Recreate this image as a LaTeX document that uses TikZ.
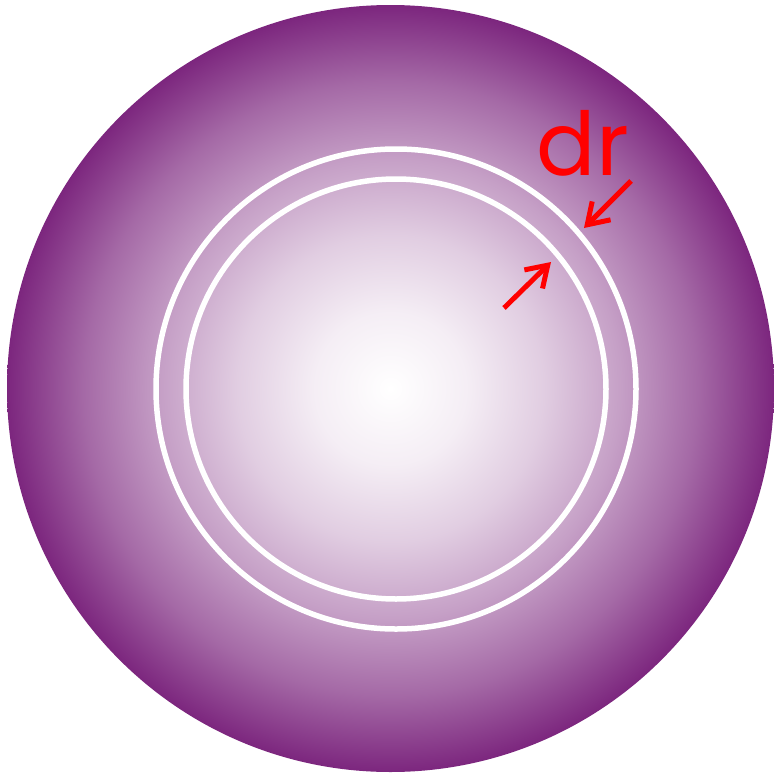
\documentclass[tikz,border=0pt]{standalone}
\usepackage{fontspec}
\newfontfamily\labelfont{Poppins}
\usetikzlibrary{arrows.meta}
\definecolor{ballpurple}{RGB}{124,38,126}
\definecolor{labelred}{RGB}{255,0,0}
\colorlet{shadeA}{ballpurple!8!white}
\colorlet{shadeB}{ballpurple!23!white}
\colorlet{shadeC}{ballpurple!44!white}
\colorlet{shadeD}{ballpurple!69!white}
\pgfdeclareradialshading{ballshade}{\pgfpoint{0bp}{0bp}}{%
  color(0bp)=(white); color(5bp)=(shadeA); color(10bp)=(shadeB);
  color(15bp)=(shadeC); color(20bp)=(shadeD); color(25bp)=(ballpurple);
  color(50bp)=(ballpurple)}
\tikzset{
  ring/.style={draw=white, line width=5.5pt},
  pointer/.style={draw=labelred, line width=5pt, -{Straight Barb[length=20pt,width=26pt,line width=5pt]}},
}
\begin{document}
\begin{tikzpicture}[x=1pt,y=-1pt]
\useasboundingbox (0,0) rectangle (774,774);
\shade[shading=ballshade] (390.5,388.5) circle[radius=383.5];
\node[circle, ring, minimum size=480pt, inner sep=0pt] (outerring) at (396,389) {};
\node[circle, ring, minimum size=420pt, inner sep=0pt] (innerring) at (396,389) {};
\coordinate (tailA) at (631,181);
\coordinate (tipA) at (584,228);
\coordinate (tailB) at (504,308);
\coordinate (tipB) at (551,262);
\draw[pointer] (tailA) -- (tipA);
\draw[pointer] (tailB) -- (tipB);
\node[anchor=base, inner sep=0pt, text=labelred, font=\labelfont\fontsize{88}{88}\selectfont] (dr) at (583,175) {dr};
\end{tikzpicture}
\end{document}
